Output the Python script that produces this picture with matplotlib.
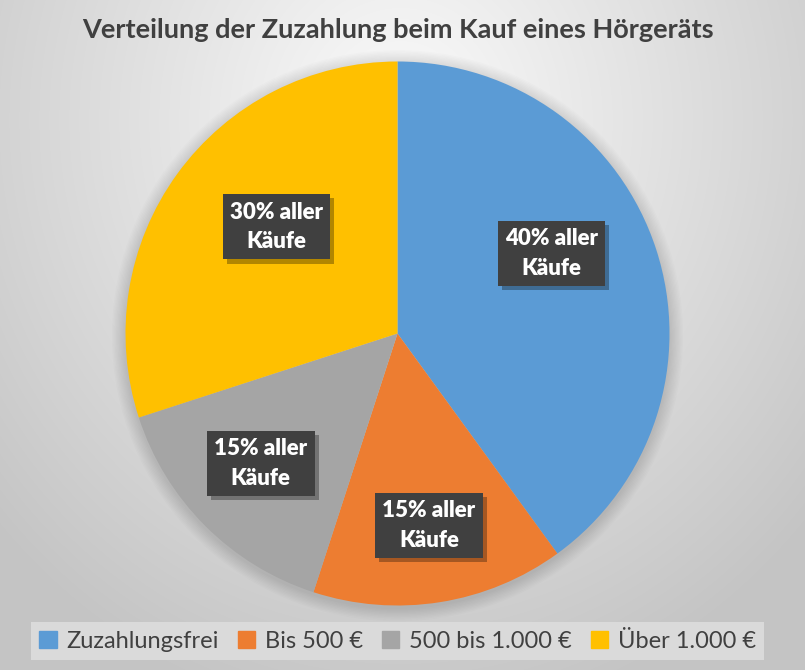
import matplotlib.pyplot as plt
import matplotlib.patches as mpatches
import matplotlib.patheffects as pe
import numpy as np

# data
categories = ["Zuzahlungsfrei", "Bis 500 €", "500 bis 1.000 €", "Über 1.000 €"]
shares = [40, 15, 15, 30]
colors = ["#5B9BD5", "#ED7D31", "#A5A5A5", "#FFC000"]
label_texts = ["40% aller\nKäufe", "15% aller\nKäufe", "15% aller\nKäufe", "30% aller\nKäufe"]
title = "Verteilung der Zuzahlung beim Kauf eines Hörgeräts"

# label placement (pie units, relative to centre)
label_pos = [(0.566, 0.295), (0.116, -0.706), (-0.503, -0.478), (-0.445, 0.392)]

W, H = 805, 670
fig = plt.figure(figsize=(W / 100, H / 100), dpi=100)

# background: radial grey gradient, light near the top centre
bg = fig.add_axes([0, 0, 1, 1])
yy, xx = np.mgrid[0:H, 0:W]
d = np.sqrt(((xx - 400) / 560.0) ** 2 + ((yy - 120) / 620.0) ** 2)
shade = np.clip(0.985 - 0.22 * d, 0.77, 1.0)
bg.imshow(np.dstack([shade] * 3), extent=[0, W, H, 0], aspect="auto")
bg.set_xlim(0, W)
bg.set_ylim(H, 0)
bg.axis("off")

# pie axes: centre (397, 333) px, radius 272 px
cx, cy, r = 397.5, 333.5, 272
ax = fig.add_axes([(cx - r) / W, (H - cy - r) / H, 2 * r / W, 2 * r / H])

# soft shadow around the pie
for k in range(10):
    ax.add_patch(mpatches.Circle((0.0, -0.008), 1.0 + 0.005 * (10 - k),
                                 color="black", alpha=0.012, lw=0, zorder=0,
                                 clip_on=False))

ax.pie(shares, colors=colors, startangle=90, counterclock=False, radius=1,
       wedgeprops=dict(linewidth=0, clip_on=False))
ax.set_xlim(-1, 1)
ax.set_ylim(-1, 1)
ax.set_aspect("equal")
ax.axis("off")

for (x, y), txt in zip(label_pos, label_texts):
    t = ax.text(x, y, txt, ha="center", va="center", fontsize=16,
                fontweight="heavy", family="Lato", linespacing=1.5, color="white",
                bbox=dict(boxstyle="square,pad=0.33", fc="#404040", ec="none"),
                zorder=5)
    t.get_bbox_patch().set_path_effects([
        pe.SimplePatchShadow(offset=(3, -3), shadow_rgbFace="black", alpha=0.3),
        pe.Normal()])

fig.text(cx / W, 1 - 30 / H, title, ha="center", va="center", fontsize=19.5,
         fontweight="bold", family="Lato", color="#404040")

handles = [mpatches.Patch(color=c, label=l) for c, l in zip(colors, categories)]
leg = fig.legend(handles=handles, loc="center", bbox_to_anchor=(cx / W, 1 - 641 / H),
                 ncol=4, frameon=True, handlelength=0.75,
                 handleheight=0.75, handletextpad=0.4, columnspacing=0.8,
                 borderpad=0.35, fancybox=False, prop=dict(family="Lato", size=17))
leg.get_frame().set_facecolor("#dadada")
leg.get_frame().set_edgecolor("none")
leg.get_frame().set_alpha(1)
for t in leg.get_texts():
    t.set_color("#404040")

fig.savefig("out.png", dpi=100)
